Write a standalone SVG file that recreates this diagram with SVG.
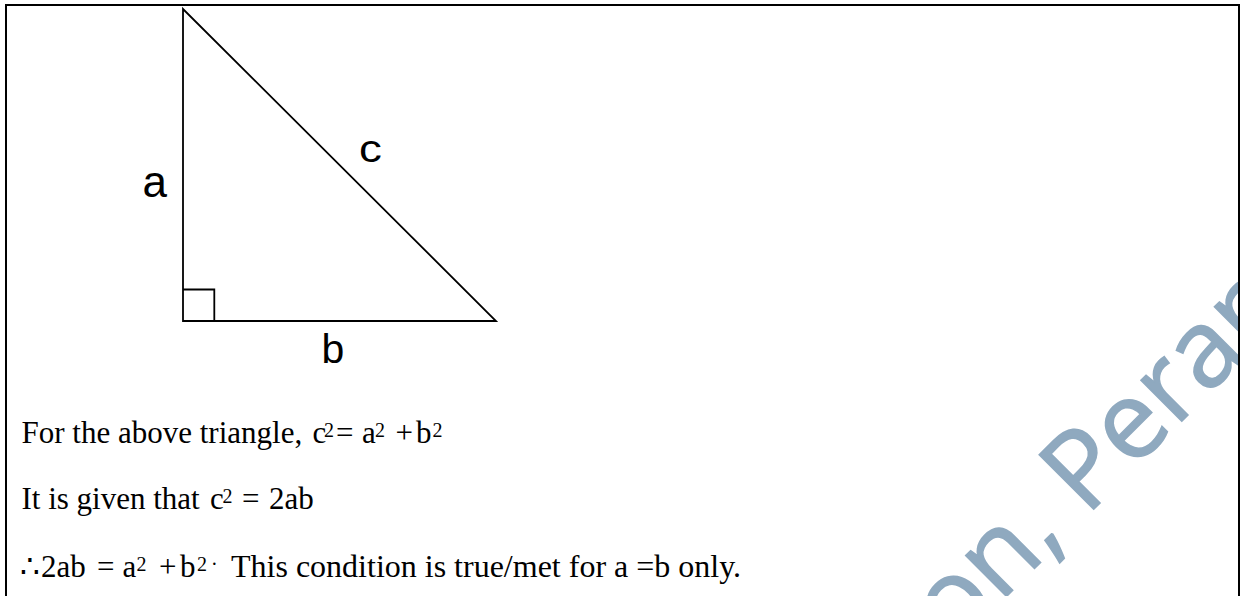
<svg xmlns="http://www.w3.org/2000/svg" width="1240" height="596" viewBox="0 0 1240 596">
  <style>
    .ln { fill: none; stroke: #000; stroke-width: 1.8; stroke-linejoin: miter; }
    .lbl { font-family: "Liberation Sans", Arial, sans-serif; fill: #000; }
    .tx { font-family: "Liberation Serif", "DejaVu Serif", serif; font-size: 31px; fill: #000; }
    .sup { font-size: 20px; }
    .wm { font-family: "Open Sans", "Noto Sans", sans-serif; font-size: 108px; fill: #8FA9BF; stroke: #8FA9BF; stroke-width: 1.5; }
  </style>
  <defs>
    <clipPath id="frameClip"><rect x="7" y="6" width="1231" height="600"/></clipPath>
  </defs>
  <rect x="0" y="0" width="1240" height="596" fill="#fff"/>

  <!-- watermark -->
  <g id="watermark" clip-path="url(#frameClip)">
    <text class="wm" transform="translate(934.7,668.3) rotate(-45)">ion, Peran</text>
  </g>

  <!-- frame -->
  <path id="frame" d="M6,600 V5 H1239 V600" fill="none" stroke="#000" stroke-width="2"/>

  <!-- triangle -->
  <g id="triangle">
    <polygon class="ln" points="183,9 183,321 496,321"/>
    <path class="ln" d="M183,289.5 H214.3 V321"/>
  </g>

  <g id="labels">
    <text id="label-a" class="lbl" x="142.5" y="196.5" font-size="44">a</text>
    <text id="label-b" class="lbl" x="321.5" y="362.5" font-size="41">b</text>
    <text id="label-c" class="lbl" font-size="38" transform="translate(359,162) scale(1.2,1)">c</text>
  </g>

  <g id="text">
    <text class="tx" y="443">
      <tspan x="21.5">For the above triangle,</tspan>
      <tspan x="312.5">c</tspan>
      <tspan class="sup" x="324" dy="-6">2</tspan>
      <tspan x="336" dy="6">=</tspan>
      <tspan x="362">a</tspan>
      <tspan class="sup" x="375" dy="-6">2</tspan>
      <tspan x="395.5" dy="6">+</tspan>
      <tspan x="416">b</tspan>
      <tspan class="sup" x="432.5" dy="-6">2</tspan>
    </text>
    <text class="tx" y="509">
      <tspan x="21.5">It is given that</tspan>
      <tspan x="210">c</tspan>
      <tspan class="sup" x="222.5" dy="-6">2</tspan>
      <tspan x="242" dy="6">=</tspan>
      <tspan x="269">2ab</tspan>
    </text>
    <text class="tx" y="577">
      <tspan x="20">∴</tspan>
      <tspan x="41">2ab</tspan>
      <tspan x="97">=</tspan>
      <tspan x="122.5">a</tspan>
      <tspan class="sup" x="136.5" dy="-6">2</tspan>
      <tspan x="159" dy="6">+</tspan>
      <tspan x="180">b</tspan>
      <tspan class="sup" x="197" dy="-6">2</tspan>
      <tspan class="sup" x="211">·</tspan>
      <tspan x="231" dy="6" font-size="32">This condition is true/met for a =b only.</tspan>
    </text>
  </g>
</svg>
